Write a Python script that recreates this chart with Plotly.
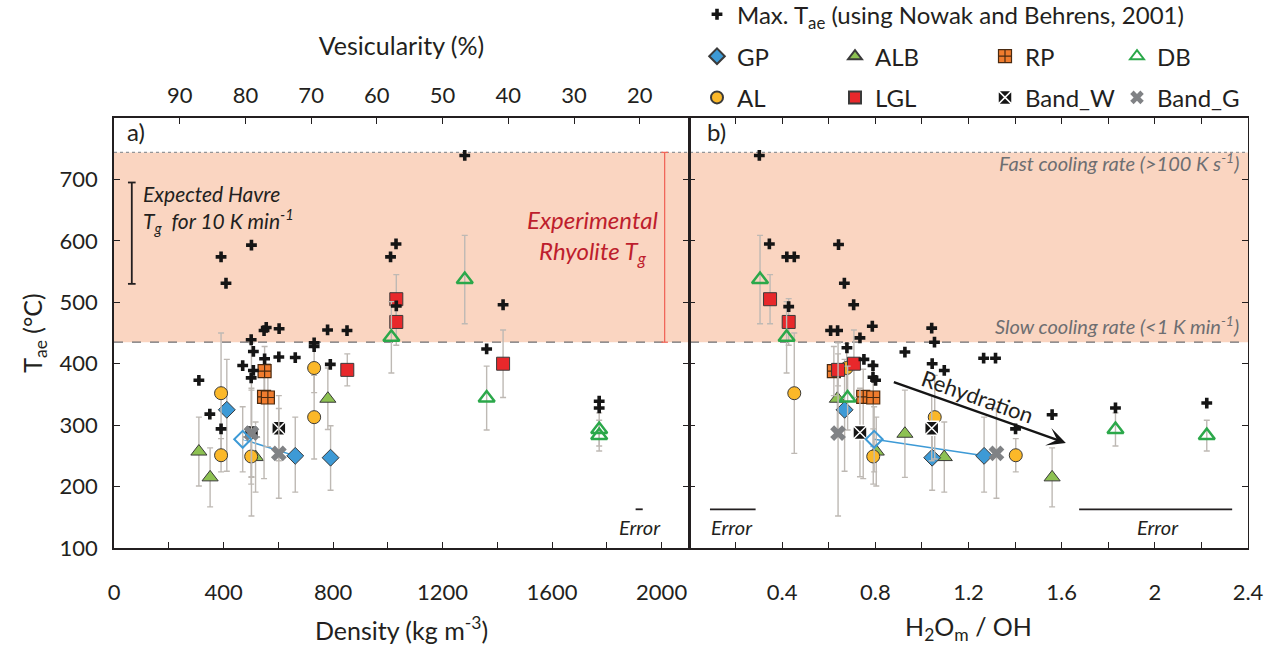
import plotly.graph_objects as go

# ---------------- data ----------------
# Each sample: density (kg m-3, panel a), H2Om/OH (panel b), T_ae (deg C), error +/-
GP_density = [412, 662, 791]
GP_ratio = [0.668, 1.267, 1.044]
GP_T = [325, 250, 247]
GP_err_plus = [82, 63, 52]
GP_err_minus = [100, 59, 53]

GPB_density = [470]          # open diamond linked to a GP sample
GPB_ratio = [0.795]
GPB_T = [277]
GPB_err = [53]

AL_density = [391, 731, 501, 731, 391]
AL_ratio = [0.452, 0.677, 0.791, 1.055, 1.403]
AL_T = [352, 393, 249, 313, 251]
AL_err = [98, 40, 45, 68, 27]

ALB_density = [310, 351, 781, 517, 502]
ALB_ratio = [0.804, 1.559, 0.637, 1.096, 0.927]
ALB_T = [257, 215, 343, 248, 286]
ALB_err = [56, 48, 50, 57, 71]

RP_density = [550, 548, 562]
RP_ratio = [0.622, 0.748, 0.791]
RP_T = [388, 346, 345]
RP_err_plus = [40, 45, 55]
RP_err_minus = [40, 133, 80]

LGL_density = [1031, 1031, 852, 1421]
LGL_ratio = [0.348, 0.428, 0.64, 0.708]
LGL_T = [505, 468, 390, 400]
LGL_err = [40, 38, 26, 55]

DB_density = [1281, 1013, 1361, 1772, 1772]
DB_ratio = [0.305, 0.419, 0.681, 1.831, 2.223]
DB_T = [537, 443, 344, 293, 283]
DB_err = [72, 58, 52, 27, 25]

BW_density = [502, 602]
BW_ratio = [0.734, 1.042]
BW_T = [288, 295]
BW_err = [72, 53]

BG_density = [502, 602]
BG_ratio = [0.64, 1.32]
BG_T = [287, 254]
BG_err_plus = [147, 73]
BG_err_minus = [135, 73]

MAXT_density = [310, 350, 391, 391, 409, 470, 501, 509, 509, 501, 502, 550, 556, 548,
                603, 602, 662, 731, 731, 780, 790, 851, 1010, 1030, 1031, 1281, 1361,
                1421, 1772, 1772]
MAXT_density_T = [373, 318, 294, 574, 531, 397, 377, 389, 420, 439, 593, 408, 459, 454,
                  457, 411, 410, 434, 428, 455, 399, 454, 574, 595, 494, 739, 424,
                  496, 339, 328]
MAXT_ratio = [0.302, 0.345, 0.42, 0.452, 0.642, 0.667, 0.707, 0.428, 0.608, 0.638, 0.787,
              1.042, 0.734, 0.678, 1.054, 0.927, 0.751, 0.79, 0.79, 0.801, 1.044, 1.096,
              1.265, 1.316, 1.559, 1.402, 1.831, 2.223]
MAXT_ratio_T = [739, 595, 574, 574, 594, 531, 496, 493, 454, 454, 461, 458, 442, 426, 435,
                419, 407, 397, 378, 373, 400, 389, 409, 409, 317, 294, 328, 336]

# reference bands / annotations (deg C)
SLOW_TG = 435
FAST_TG = 744
HAVRE_TG = [530, 695]
HAVRE_X = 65
EXP_X = 2011
REHYD_START = (0.873, 371)
REHYD_END = (1.618, 271)
ERR_A = [1905, 1931]
ERR_B1 = [0.09, 0.286]
ERR_B2 = [1.675, 2.332]
ERR_LINE_T = 163

density_ticks = list(range(0, 2001, 200))
ratio_ticks = [round(0.2 * i, 1) for i in range(0, 13)]
vesic_ticks = [90, 80, 70, 60, 50, 40, 30, 20]
T_ticks = [100, 200, 300, 400, 500, 600, 700]

# ---------------- style ----------------
FONT = "Lato"
TXT = "#231F20"
ERR_C = "#BEB9B4"
GP_C = "#3D9AD6"
AL_C = "#FBB829"
ALB_C = "#8DC152"
RP_C = "#F07C2E"
LGL_C = "#E8282B"
DB_C = "#2BA84A"
BG_C = "#808285"
SHADE = "#FAD5C1"
OUT = "#3A3A3A"

fig = go.Figure()


def err(plus, minus=None):
    d = dict(type="data", array=plus, color=ERR_C, thickness=1.4, width=3)
    if minus is not None:
        d["arrayminus"] = minus
    return d


def add_group(name, dens, ratio, T, ep, em, marker, legend):
    fig.add_trace(go.Scatter(x=dens, y=T, xaxis="x", yaxis="y", mode="markers",
                             marker=marker, error_y=err(ep, em), name=name,
                             legend=legend, legendgroup=name, showlegend=True,
                             hoverinfo="skip"))
    fig.add_trace(go.Scatter(x=ratio, y=T, xaxis="x2", yaxis="y2", mode="markers",
                             marker=marker, error_y=err(ep, em), name=name,
                             legendgroup=name, showlegend=False, hoverinfo="skip"))


# link lines between open diamond and GP sample
fig.add_trace(go.Scatter(x=[GPB_density[0], GP_density[1]], y=[GPB_T[0], GP_T[1]],
                         xaxis="x", yaxis="y", mode="lines",
                         line=dict(color=GP_C, width=1.5), showlegend=False, hoverinfo="skip"))
fig.add_trace(go.Scatter(x=[GPB_ratio[0], GP_ratio[1]], y=[GPB_T[0], GP_T[1]],
                         xaxis="x2", yaxis="y2", mode="lines",
                         line=dict(color=GP_C, width=1.5), showlegend=False, hoverinfo="skip"))

add_group("ALB", ALB_density, ALB_ratio, ALB_T, ALB_err, None,
          dict(symbol="triangle-up", size=14, color=ALB_C, line=dict(color=OUT, width=1)), "legend3")
add_group("GP", GP_density, GP_ratio, GP_T, GP_err_plus, GP_err_minus,
          dict(symbol="diamond", size=13, color=GP_C, line=dict(color=OUT, width=1)), "legend2")
add_group("AL", AL_density, AL_ratio, AL_T, AL_err, None,
          dict(symbol="circle", size=13, color=AL_C, line=dict(color=OUT, width=1)), "legend2")
add_group("RP", RP_density, RP_ratio, RP_T, RP_err_plus, RP_err_minus,
          dict(symbol="square-cross", size=13, color=RP_C, line=dict(color="#4A2A10", width=1.2)), "legend4")
add_group("LGL", LGL_density, LGL_ratio, LGL_T, LGL_err, None,
          dict(symbol="square", size=13, color=LGL_C, line=dict(color=OUT, width=1)), "legend3")
add_group("DB", DB_density, DB_ratio, DB_T, DB_err, None,
          dict(symbol="triangle-up-open", size=14, color=DB_C, line=dict(color=DB_C, width=2.5)), "legend5")
add_group("Band_W", BW_density, BW_ratio, BW_T, BW_err, None,
          dict(symbol="square-x", size=14, color="#151515", line=dict(color="white", width=1.5)), "legend4")
add_group("Band_G", BG_density, BG_ratio, BG_T, BG_err_plus, BG_err_minus,
          dict(symbol="x", size=14, color=BG_C, line=dict(width=0)), "legend5")

# open diamonds
for xs, xa, ya in [(GPB_density, "x", "y"), (GPB_ratio, "x2", "y2")]:
    fig.add_trace(go.Scatter(x=xs, y=GPB_T, xaxis=xa, yaxis=ya, mode="markers",
                             marker=dict(symbol="diamond-open", size=13, color=GP_C,
                                         line=dict(color=GP_C, width=2)),
                             error_y=err(GPB_err), showlegend=False, hoverinfo="skip"))

# Max T_ae (black pluses)
MAXNAME = "Max. T<sub>ae</sub> (using Nowak and Behrens, 2001)"
fig.add_trace(go.Scatter(x=MAXT_density, y=MAXT_density_T, xaxis="x", yaxis="y", mode="markers",
                         marker=dict(symbol="cross", size=9, color="#151515"),
                         name=MAXNAME, legend="legend", showlegend=True, hoverinfo="skip"))
fig.add_trace(go.Scatter(x=MAXT_ratio, y=MAXT_ratio_T, xaxis="x2", yaxis="y2", mode="markers",
                         marker=dict(symbol="cross", size=9, color="#151515"),
                         showlegend=False, hoverinfo="skip"))

# empty trace so the vesicularity axis is drawn
fig.add_trace(go.Scatter(x=[], y=[], xaxis="x3", yaxis="y", showlegend=False))

# ---------------- shapes ----------------
shapes = [
    dict(type="rect", xref="paper", x0=0, x1=1, yref="y", y0=SLOW_TG, y1=FAST_TG,
         fillcolor=SHADE, line=dict(width=0), layer="below"),
    dict(type="line", xref="paper", x0=0, x1=1, yref="y", y0=FAST_TG, y1=FAST_TG,
         line=dict(color="#939598", width=1.2, dash="dot"), layer="below"),
    dict(type="line", xref="paper", x0=0, x1=1, yref="y", y0=SLOW_TG, y1=SLOW_TG,
         line=dict(color="#6D6E71", width=1.2, dash="dash"), layer="below"),
    # Havre Tg bar
    dict(type="line", xref="x", yref="y", x0=HAVRE_X, x1=HAVRE_X, y0=HAVRE_TG[0], y1=HAVRE_TG[1],
         line=dict(color=TXT, width=1.8)),
    dict(type="line", xref="x", yref="y", x0=HAVRE_X - 14, x1=HAVRE_X + 14, y0=HAVRE_TG[0], y1=HAVRE_TG[0],
         line=dict(color=TXT, width=1.8)),
    dict(type="line", xref="x", yref="y", x0=HAVRE_X - 14, x1=HAVRE_X + 14, y0=HAVRE_TG[1], y1=HAVRE_TG[1],
         line=dict(color=TXT, width=1.8)),
    # Experimental rhyolite Tg bar
    dict(type="line", xref="x", yref="y", x0=EXP_X, x1=EXP_X, y0=SLOW_TG, y1=FAST_TG,
         line=dict(color="#F0675A", width=1.3)),
    dict(type="line", xref="x", yref="y", x0=EXP_X - 12, x1=EXP_X + 12, y0=FAST_TG, y1=FAST_TG,
         line=dict(color="#F0675A", width=1.3)),
    dict(type="line", xref="x", yref="y", x0=EXP_X - 12, x1=EXP_X + 12, y0=SLOW_TG, y1=SLOW_TG,
         line=dict(color="#F0675A", width=1.3)),
    # error scale bars
    dict(type="line", xref="x", yref="y", x0=ERR_A[0], x1=ERR_A[1], y0=ERR_LINE_T, y1=ERR_LINE_T,
         line=dict(color=TXT, width=1.8)),
    dict(type="line", xref="x2", yref="y2", x0=ERR_B1[0], x1=ERR_B1[1], y0=ERR_LINE_T, y1=ERR_LINE_T,
         line=dict(color=TXT, width=1.8)),
    dict(type="line", xref="x2", yref="y2", x0=ERR_B2[0], x1=ERR_B2[1], y0=ERR_LINE_T, y1=ERR_LINE_T,
         line=dict(color=TXT, width=1.8)),
]

# ---------------- annotations ----------------
ann = [
    dict(text="a)", x=40, y=778, xref="x", yref="y", xanchor="left", yanchor="middle",
         showarrow=False, font=dict(size=24, color=TXT)),
    dict(text="b)", x=0.069, y=778, xref="x2", yref="y2", xanchor="left", yanchor="middle",
         showarrow=False, font=dict(size=24, color=TXT)),
    dict(text="<i>Expected Havre<br>T<sub>g</sub>  for 10 K min<sup>-1</sup></i>", x=100, y=652,
         xref="x", yref="y", xanchor="left", yanchor="middle", align="left", showarrow=False,
         font=dict(size=21, color=TXT)),
    dict(text="<i>Experimental<br>Rhyolite T<sub>g</sub></i>", x=1749, y=606, xref="x", yref="y",
         xanchor="center", yanchor="middle", align="center", showarrow=False,
         font=dict(size=24, color="#BE1E2D")),
    dict(text="<i>Fast cooling rate (>100 K s<sup>-1</sup>)</i>", x=2.37, y=728, xref="x2", yref="y2",
         xanchor="right", yanchor="middle", showarrow=False, font=dict(size=20, color="#6D6E71")),
    dict(text="<i>Slow cooling rate (<1 K min<sup>-1</sup>)</i>", x=2.37, y=463, xref="x2", yref="y2",
         xanchor="right", yanchor="middle", showarrow=False, font=dict(size=20, color="#6D6E71")),
    dict(text="", x=REHYD_END[0], y=REHYD_END[1], ax=REHYD_START[0], ay=REHYD_START[1],
         xref="x2", yref="y2", axref="x2", ayref="y2", showarrow=True, arrowhead=3,
         arrowsize=1.3, arrowwidth=2.4, arrowcolor="#151515"),
    dict(text="Rehydration", x=1.24, y=346, xref="x2", yref="y2", textangle=19.5,
         showarrow=False, font=dict(size=22, color=TXT)),
    dict(text="<i>Error</i>", x=1921, y=135, xref="x", yref="y", showarrow=False,
         font=dict(size=20, color=TXT)),
    dict(text="<i>Error</i>", x=0.183, y=135, xref="x2", yref="y2", showarrow=False,
         font=dict(size=20, color=TXT)),
    dict(text="<i>Error</i>", x=2.012, y=135, xref="x2", yref="y2", showarrow=False,
         font=dict(size=20, color=TXT)),
]

# ---------------- layout ----------------
W, H = 1275, 645
L, R, T, B = 114, 27, 118, 96.5
split = (689 - L) / (W - L - R)

axis_common = dict(showline=True, linecolor=TXT, linewidth=1.5, ticks="inside", ticklen=6,
                   tickwidth=1.3, tickcolor=TXT, showgrid=False, zeroline=False,
                   tickfont=dict(size=22, color=TXT, family=FONT))

leg_common = dict(bgcolor="rgba(0,0,0,0)", borderwidth=0, font=dict(size=24, color=TXT, family=FONT),
                  xanchor="left", yanchor="top", itemsizing="constant", tracegroupgap=7,
                  orientation="v")


def px(xp):
    return (xp - L) / (W - L - R)


def py(yp):
    return (H - B - yp) / (H - B - T)


fig.update_layout(
    width=W, height=H, autosize=False,
    margin=dict(l=L, r=R, t=T, b=B, pad=0, autoexpand=False),
    paper_bgcolor="white", plot_bgcolor="rgba(0,0,0,0)",
    font=dict(family=FONT, color=TXT),
    shapes=shapes, annotations=ann,
    xaxis=dict(axis_common, domain=[0, split], range=[0, 2100], anchor="y",
               tickvals=density_ticks,
               ticktext=[str(v) if v % 400 == 0 else "" for v in density_ticks],
               ticklabelstandoff=24,
               title=dict(text="Density (kg m<sup>-3</sup>)", font=dict(size=25), standoff=22)),
    xaxis2=dict(axis_common, domain=[split, 1], range=[0, 2.4], anchor="y2", mirror="ticks",
                tickvals=ratio_ticks,
                ticktext=[("2" if v == 2.0 else ("2.4" if v == 2.4 else f"{v:g}"))
                          if (round(v * 10) % 4 == 0 and v > 0) else "" for v in ratio_ticks],
                ticklabelstandoff=24,
                title=dict(text="H<sub>2</sub>O<sub>m</sub> / OH", font=dict(size=25), standoff=22)),
    xaxis3=dict(axis_common, overlaying="x", side="top", anchor="y", range=[100, 12.5],
                tickvals=vesic_ticks, ticktext=[str(v) for v in vesic_ticks],
                ticklabelstandoff=4,
                title=dict(text="Vesicularity (%)", font=dict(size=25), standoff=19)),
    yaxis=dict(axis_common, domain=[0, 1], range=[100, 800], anchor="x", mirror="ticks",
               tickvals=T_ticks, ticklabelstandoff=10,
               title=dict(text="T<sub>ae</sub> (°C)", font=dict(size=25), standoff=10)),
    yaxis2=dict(axis_common, domain=[0, 1], range=[100, 800], anchor="x2", matches="y",
                mirror="ticks", tickvals=T_ticks, showticklabels=False, linewidth=1.0),
    legend=dict(leg_common, x=px(697), y=py(-8), itemsizing="trace"),
    legend2=dict(leg_common, x=px(697), y=py(34)),
    legend3=dict(leg_common, x=px(835), y=py(34)),
    legend4=dict(leg_common, x=px(985), y=py(34), itemsizing="trace"),
    legend5=dict(leg_common, x=px(1117), y=py(34)),
)

fig.write_html("out.html")
